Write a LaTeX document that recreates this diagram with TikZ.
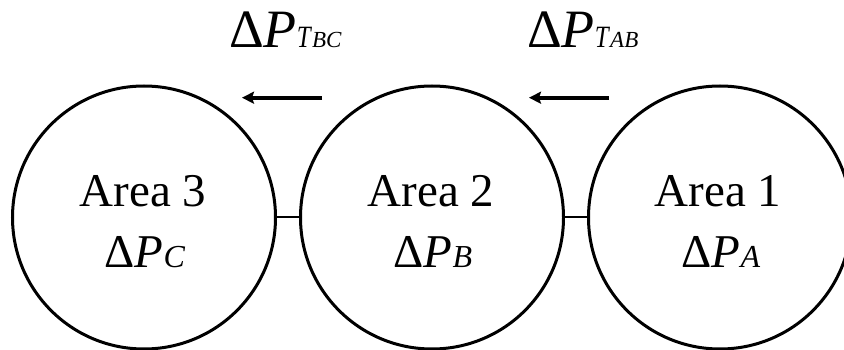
\documentclass[tikz,border=0pt]{standalone}
\usepackage{fontspec}
\setmainfont{Liberation Serif}
\usetikzlibrary{arrows.meta}
\newcommand{\subfont}{\fontsize{32}{32}\selectfont}
\newcommand{\tlabel}[2]{{\fontsize{54}{54}\selectfont Δ\textit{P}}{\fontsize{31}{31}\selectfont\scalebox{0.8}[1]{\textit{T}}}{\fontsize{23}{23}\selectfont\textit{#1}\textit{#2}}}
\begin{document}
\begin{tikzpicture}[x=1pt,y=-1pt,
  area/.style={draw,circle,line width=3pt,minimum size=263pt,inner sep=0pt},
  txt/.style={anchor=base,inner sep=0pt,font=\fontsize{47}{47}\selectfont},
  tie/.style={line width=2pt},
  flow/.style={line width=4pt,-{Stealth[length=12pt,width=12pt,inset=2pt]}},
  lbl/.style={anchor=base west,inner sep=0pt}]
\clip (0,0) rectangle (844,350);
\node[area] (c3) at (144,217.5) {};
\node[area] (c2) at (432,217.5) {};
\node[area] (c1) at (720,217.5) {};
\node[txt] (t3) at (143,207) {Area 3};
\node[txt] (t2) at (431,207) {Area 2};
\node[txt] (t1) at (718,207) {Area 1};
\node[txt] (p3) at (145,267) {Δ\textit{P}{\subfont\textit{C}}};
\node[txt] (p2) at (433,267) {Δ\textit{P}{\subfont\textit{B}}};
\node[txt] (p1) at (721,267) {Δ\textit{P}{\subfont\textit{A}}};
\draw[tie] (c3.east) -- (c2.west);
\draw[tie] (c2.east) -- (c1.west);
\coordinate (a1s) at (322,97.7);
\coordinate (a1e) at (242,97.7);
\coordinate (a2s) at (609,97.7);
\coordinate (a2e) at (529,97.7);
\draw[flow] (a1s) -- (a1e);
\draw[flow] (a2s) -- (a2e);
\node[lbl] (l1) at (229,48) {\tlabel{B}{C}};
\node[lbl] (l2) at (527,48) {\tlabel{A}{B}};
\end{tikzpicture}
\end{document}
